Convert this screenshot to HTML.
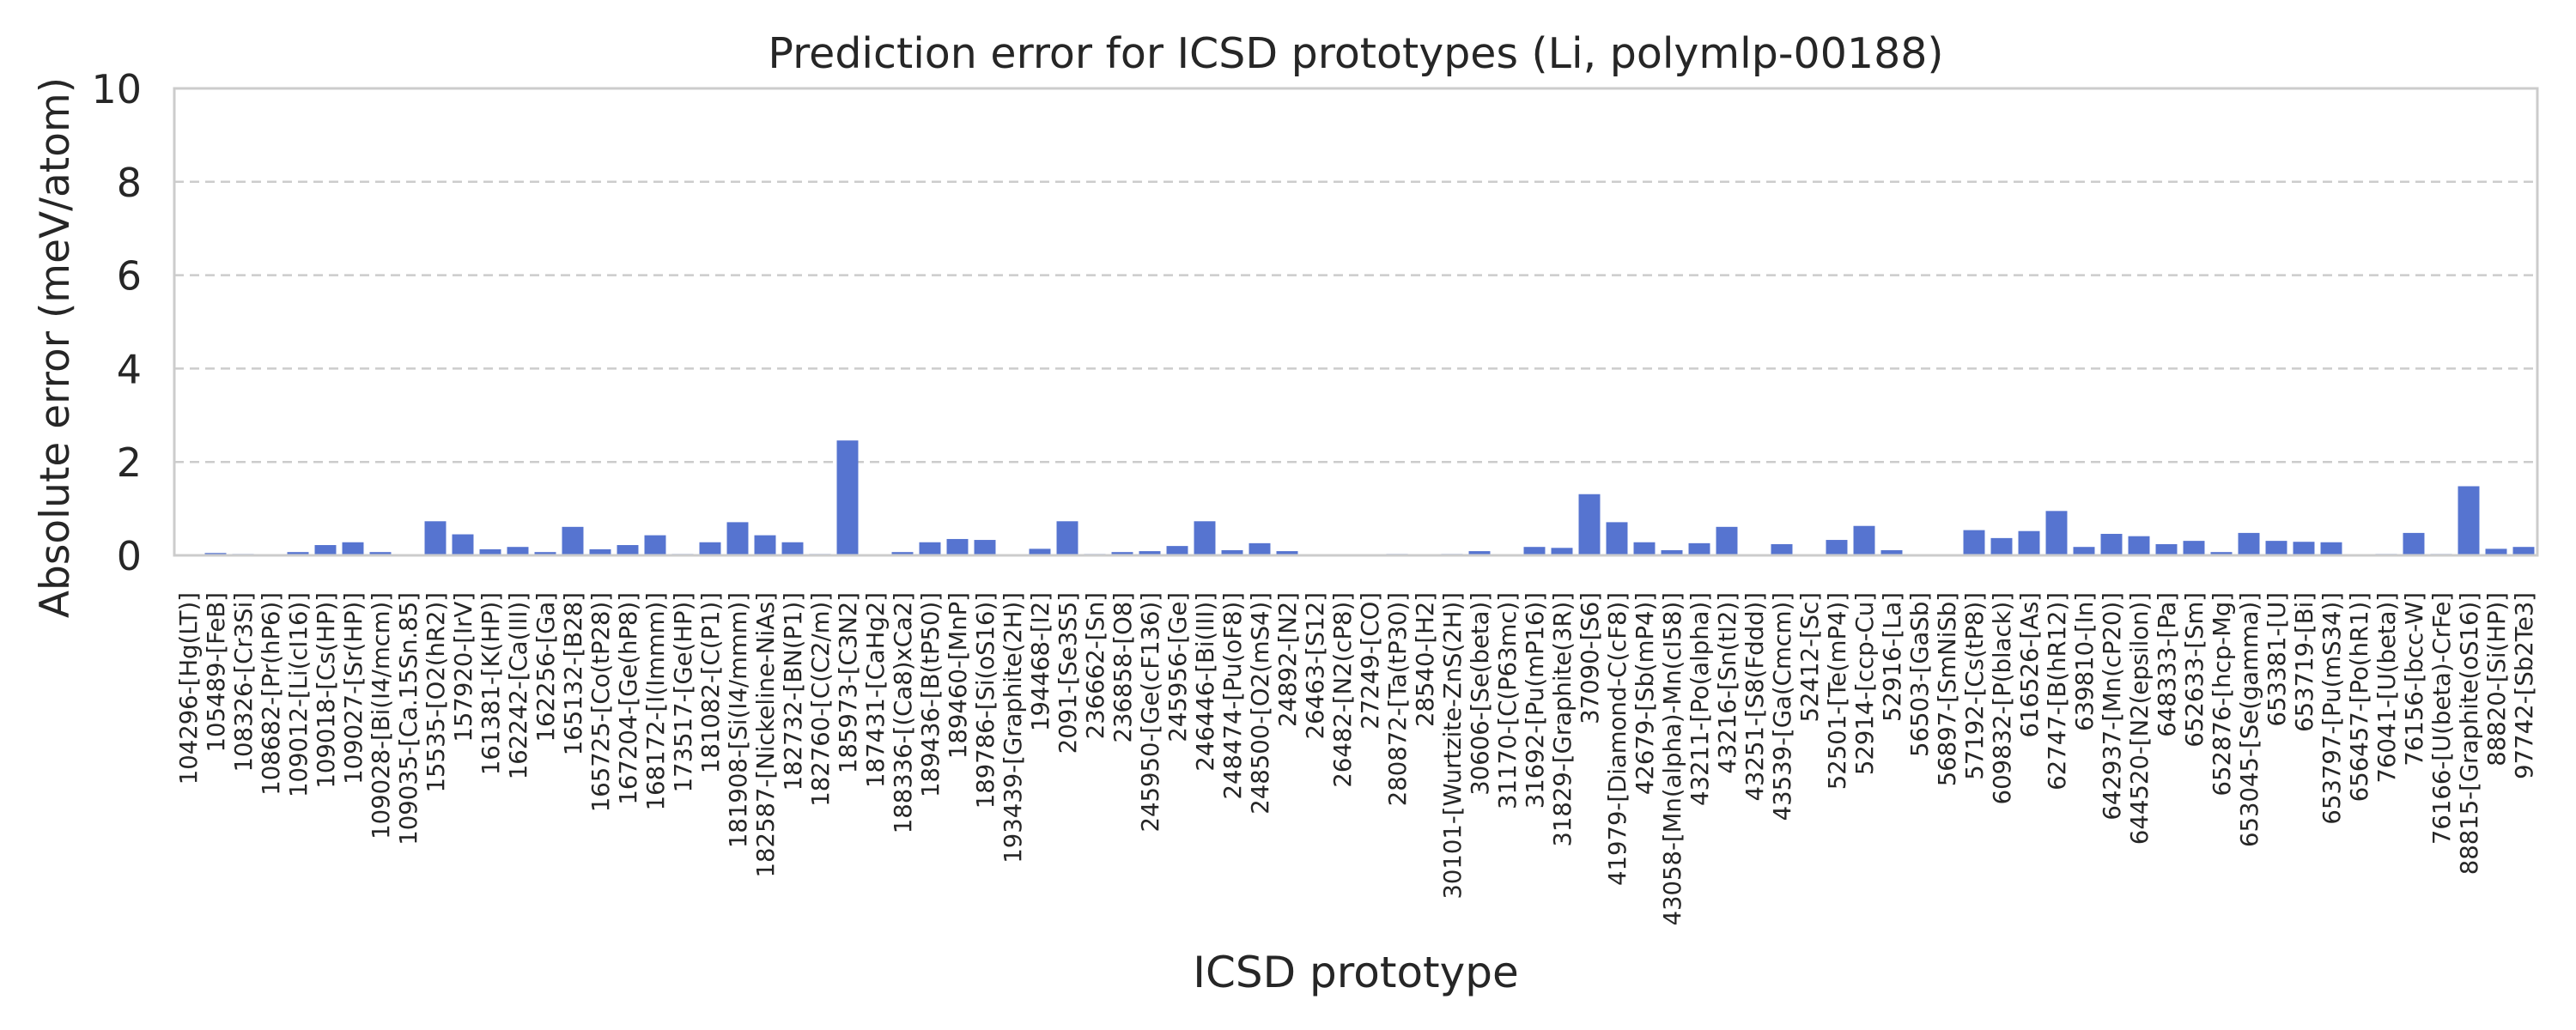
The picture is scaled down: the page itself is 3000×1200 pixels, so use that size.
<!DOCTYPE html>
<html>
<head>
<meta charset="utf-8">
<style>
html,body{margin:0;padding:0;background:#fff;}
svg{display:block;}
text{font-family:"DejaVu Sans","Liberation Sans",sans-serif;fill:#262626;}
</style>
</head>
<body>
<svg id="chart" width="3000" height="1200" viewBox="0 0 3000 1200" xmlns="http://www.w3.org/2000/svg">
  <rect x="0" y="0" width="3000" height="1200" fill="#fff"/>
  <g id="grid"></g>
  <g id="bars"></g>
  <rect x="203" y="103" width="2752" height="544" fill="none" stroke="#cccccc" stroke-width="3"/>
  <g id="yticks"></g>
  <g id="xticks"></g>
  <text x="1579" y="79" font-size="49" text-anchor="middle">Prediction error for ICSD prototypes (Li, polymlp-00188)</text>
  <text x="1579" y="1150" font-size="50" text-anchor="middle">ICSD prototype</text>
  <text x="0" y="0" font-size="47" text-anchor="middle" transform="translate(80,405) rotate(-90)">Absolute error (meV/atom)</text>
</svg>
<script>
const categories = ["104296-[Hg(LT)]","105489-[FeB]","108326-[Cr3Si]","108682-[Pr(hP6)]","109012-[Li(cI16)]","109018-[Cs(HP)]","109027-[Sr(HP)]","109028-[Bi(I4/mcm)]","109035-[Ca.15Sn.85]","15535-[O2(hR2)]","157920-[IrV]","161381-[K(HP)]","162242-[Ca(III)]","162256-[Ga]","165132-[B28]","165725-[Co(tP28)]","167204-[Ge(hP8)]","168172-[I(Immm)]","173517-[Ge(HP)]","181082-[C(P1)]","181908-[Si(I4/mmm)]","182587-[Nickeline-NiAs]","182732-[BN(P1)]","182760-[C(C2/m)]","185973-[C3N2]","187431-[CaHg2]","188336-[(Ca8)xCa2]","189436-[B(tP50)]","189460-[MnP]","189786-[Si(oS16)]","193439-[Graphite(2H)]","194468-[I2]","2091-[Se3S5]","236662-[Sn]","236858-[O8]","245950-[Ge(cF136)]","245956-[Ge]","246446-[Bi(III)]","248474-[Pu(oF8)]","248500-[O2(mS4)]","24892-[N2]","26463-[S12]","26482-[N2(cP8)]","27249-[CO]","280872-[Ta(tP30)]","28540-[H2]","30101-[Wurtzite-ZnS(2H)]","30606-[Se(beta)]","31170-[C(P63mc)]","31692-[Pu(mP16)]","31829-[Graphite(3R)]","37090-[S6]","41979-[Diamond-C(cF8)]","42679-[Sb(mP4)]","43058-[Mn(alpha)-Mn(cI58)]","43211-[Po(alpha)]","43216-[Sn(tI2)]","43251-[S8(Fddd)]","43539-[Ga(Cmcm)]","52412-[Sc]","52501-[Te(mP4)]","52914-[ccp-Cu]","52916-[La]","56503-[GaSb]","56897-[SmNiSb]","57192-[Cs(tP8)]","609832-[P(black)]","616526-[As]","62747-[B(hR12)]","639810-[In]","642937-[Mn(cP20)]","644520-[N2(epsilon)]","648333-[Pa]","652633-[Sm]","652876-[hcp-Mg]","653045-[Se(gamma)]","653381-[U]","653719-[Bi]","653797-[Pu(mS34)]","656457-[Po(hR1)]","76041-[U(beta)]","76156-[bcc-W]","76166-[U(beta)-CrFe]","88815-[Graphite(oS16)]","88820-[Si(HP)]","97742-[Sb2Te3]"];
const errors = [0,0.05,0.03,0,0.07,0.22,0.28,0.07,0,0.73,0.45,0.13,0.18,0.07,0.61,0.13,0.22,0.43,0.03,0.28,0.71,0.43,0.28,0.03,2.46,0.01,0.07,0.28,0.35,0.33,0,0.14,0.73,0.03,0.07,0.09,0.2,0.73,0.11,0.26,0.09,0,0.01,0,0.03,0,0.03,0.09,0,0.18,0.16,1.31,0.71,0.28,0.11,0.26,0.61,0,0.24,0,0.33,0.63,0.11,0.01,0,0.54,0.37,0.52,0.95,0.18,0.46,0.41,0.24,0.31,0.07,0.48,0.31,0.29,0.28,0,0.03,0.48,0.03,1.48,0.14,0.18];
const yTicks = [0,2,4,6,8,10];
const yTickLabels = ["0","2","4","6","8","10"];

const NS = "http://www.w3.org/2000/svg";
const plotL = 203, plotR = 2955, plotT = 103, plotB = 647;
const yMax = 10;
function yScale(v){ return plotB - (v / yMax) * (plotB - plotT); }
const slot = (plotR - plotL) / categories.length;
function xCenter(i){ return plotL + slot * (i + 0.5); }
const barW = slot * 0.78;

const grid = document.getElementById('grid');
const yt = document.getElementById('yticks');
yTicks.forEach((t, k) => {
  const y = yScale(t);
  if (t > 0 && t < yMax) {
    const ln = document.createElementNS(NS, 'line');
    
    
    ln.setAttribute('x1', plotL); ln.setAttribute('x2', plotR);
    ln.setAttribute('y1', y); ln.setAttribute('y2', y);
    ln.setAttribute('stroke', '#cccccc'); ln.setAttribute('stroke-width', '2.5');
    ln.setAttribute('stroke-dasharray', '11 7');
    grid.appendChild(ln);
  }
  const tx = document.createElementNS(NS, 'text');
  
  
  tx.setAttribute('x', 165); tx.setAttribute('y', y + 17);
  tx.setAttribute('font-size', '46'); tx.setAttribute('text-anchor', 'end');
  tx.textContent = yTickLabels[k];
  yt.appendChild(tx);
});

const bars = document.getElementById('bars');
const xt = document.getElementById('xticks');
categories.forEach((c, i) => {
  const v = errors[i];
  const r = document.createElementNS(NS, 'rect');
  
  
  r.setAttribute('x', xCenter(i) - barW / 2);
  r.setAttribute('y', yScale(v));
  r.setAttribute('width', barW);
  r.setAttribute('height', Math.max(0, plotB - yScale(v)));
  r.setAttribute('fill', '#5674d0');
  bars.appendChild(r);

  const tx = document.createElementNS(NS, 'text');
  
  
  tx.setAttribute('font-size', '27.5');
  tx.setAttribute('text-anchor', 'end');
  tx.setAttribute('transform', 'translate(' + (xCenter(i) + 10) + ',690) rotate(-90)');
  tx.textContent = c;
  xt.appendChild(tx);
});
</script>
</body>
</html>
